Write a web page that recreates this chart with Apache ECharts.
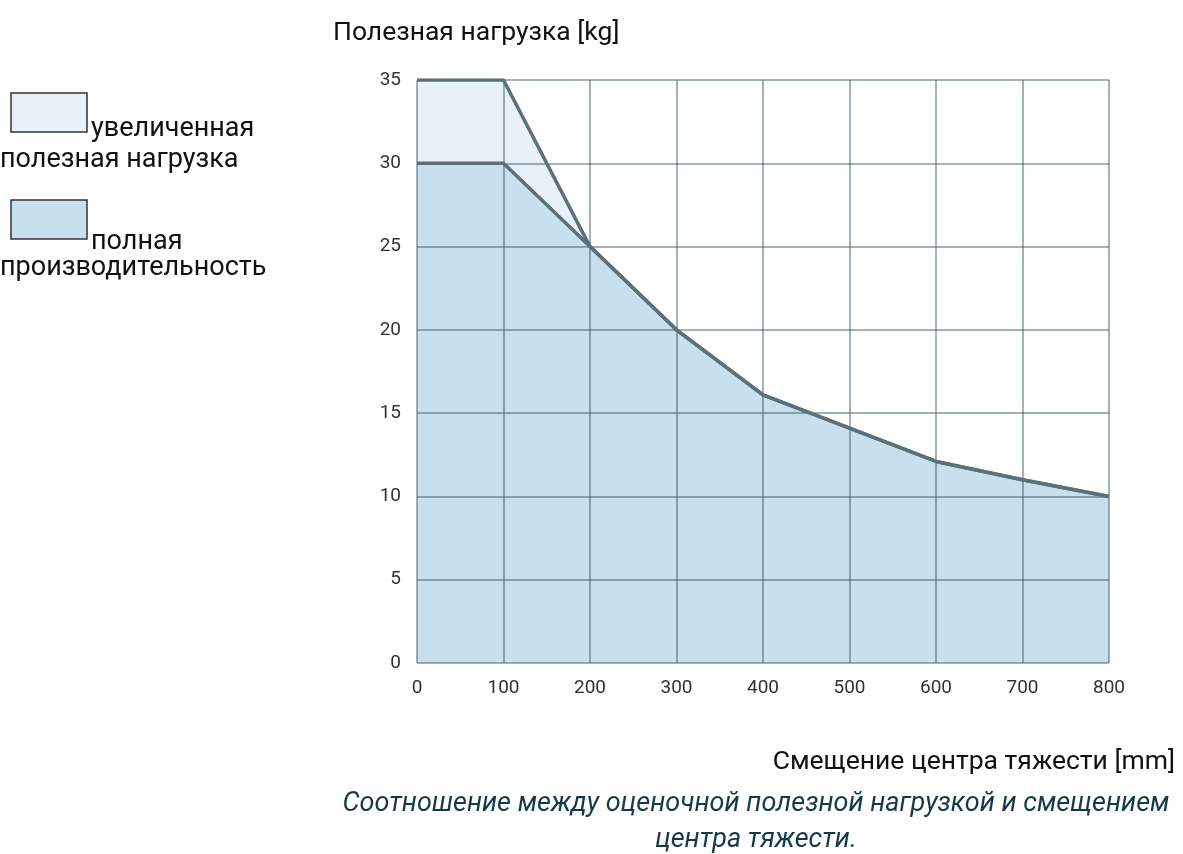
<!DOCTYPE html>
<html>
<head>
<meta charset="utf-8">
<script src="https://cdn.jsdelivr.net/npm/echarts@6/dist/echarts.min.js"></script>
<style>
html,body{margin:0;padding:0;background:#fff;}
#chart1{width:1183px;height:854px;}
</style>
</head>
<body>
<div id="chart1"></div>
<script>
// смещение центра тяжести, mm
var xValues=[0,100,200,300,400,500,600,700,800];
// увеличенная полезная нагрузка
var extendedLoad=[35,35,25,20,16.1,14.1,12.1,11,10];
// полная производительность
var fullLoad=[30,30,25,20,16.1,14.1,12.1,11,10];

function pairs(arr){
    var out=[];
    for(var i=0;i<xValues.length;i++){
        out.push([xValues[i],arr[i]]);
    }
    return out;
}

var chart1=echarts.init(document.getElementById('chart1'));
var lineColor='#5b7179';
var gridColor='rgba(50,85,97,0.45)';
var font='Roboto';
function txt(x,y,text,extra){
    var st={text:text,fill:'#111',font:'27px Roboto',verticalAlign:'middle',align:'left'};
    for(var k in extra){st[k]=extra[k];}
    return {type:'text',x:x,y:y,style:st};
}
var option={
    animation:false,
    grid:{left:417,right:74,top:80,bottom:191},
    xAxis:{
        type:'value',
        min:0,max:800,interval:100,
        z:2,
        axisLine:{show:false},
        axisTick:{show:false},
        splitLine:{show:true,lineStyle:{color:gridColor,width:2}},
        axisLabel:{margin:16,color:'#333',fontSize:19,fontFamily:font},
        name:'Смещение центра тяжести [mm]',
        nameLocation:'end',
        nameGap:0,
        nameTextStyle:{
            color:'#111',fontSize:26.5,fontFamily:font,
            align:'right',verticalAlign:'top',
            padding:[86,-66,0,0]
        }
    },
    yAxis:{
        type:'value',
        min:0,max:35,interval:5,
        z:2,
        axisLine:{show:false},
        axisTick:{show:false},
        splitLine:{show:true,lineStyle:{color:gridColor,width:2}},
        axisLabel:{margin:16,color:'#333',fontSize:19,fontFamily:font},
        name:'Полезная нагрузка [kg]',
        nameLocation:'end',
        nameGap:0,
        nameTextStyle:{
            color:'#111',fontSize:26.5,fontFamily:font,
            align:'left',verticalAlign:'bottom',
            padding:[0,0,33,-84]
        }
    },
    series:[
        {
            name:'увеличенная полезная нагрузка',
            type:'line',
            z:1,
            symbol:'none',
            lineStyle:{width:0},
            areaStyle:{color:'#e6f2f8',opacity:1},
            data:pairs(extendedLoad)
        },
        {
            name:'полная производительность',
            type:'line',
            z:1,
            symbol:'none',
            lineStyle:{width:0},
            areaStyle:{color:'#c8e0ed',opacity:1},
            data:pairs(fullLoad)
        },
        {
            type:'line',
            z:3,
            symbol:'none',
            lineStyle:{width:3.5,color:lineColor},
            data:pairs(extendedLoad)
        },
        {
            type:'line',
            z:3,
            symbol:'none',
            lineStyle:{width:3.5,color:lineColor},
            data:pairs(fullLoad)
        }
    ],
    graphic:[
        //легенда
        {type:'rect',shape:{x:11,y:93,width:76,height:39},style:{fill:'#e6f2f8',stroke:'#333',lineWidth:1.5}},
        txt(91,129,'увеличенная'),
        txt(0,160,'полезная нагрузка'),
        {type:'rect',shape:{x:11,y:200,width:76,height:39},style:{fill:'#c8e0ed',stroke:'#333',lineWidth:1.5}},
        txt(91,242,'полная'),
        txt(0,268,'производительность'),
        //подпись
        txt(756,804,'Соотношение между оценочной полезной нагрузкой и смещением',{fill:'#153a47',font:'italic 27px Roboto',align:'center'}),
        txt(756,840,'центра тяжести.',{fill:'#153a47',font:'italic 27px Roboto',align:'center'})
    ]
};
chart1.setOption(option);
</script>
</body>
</html>
